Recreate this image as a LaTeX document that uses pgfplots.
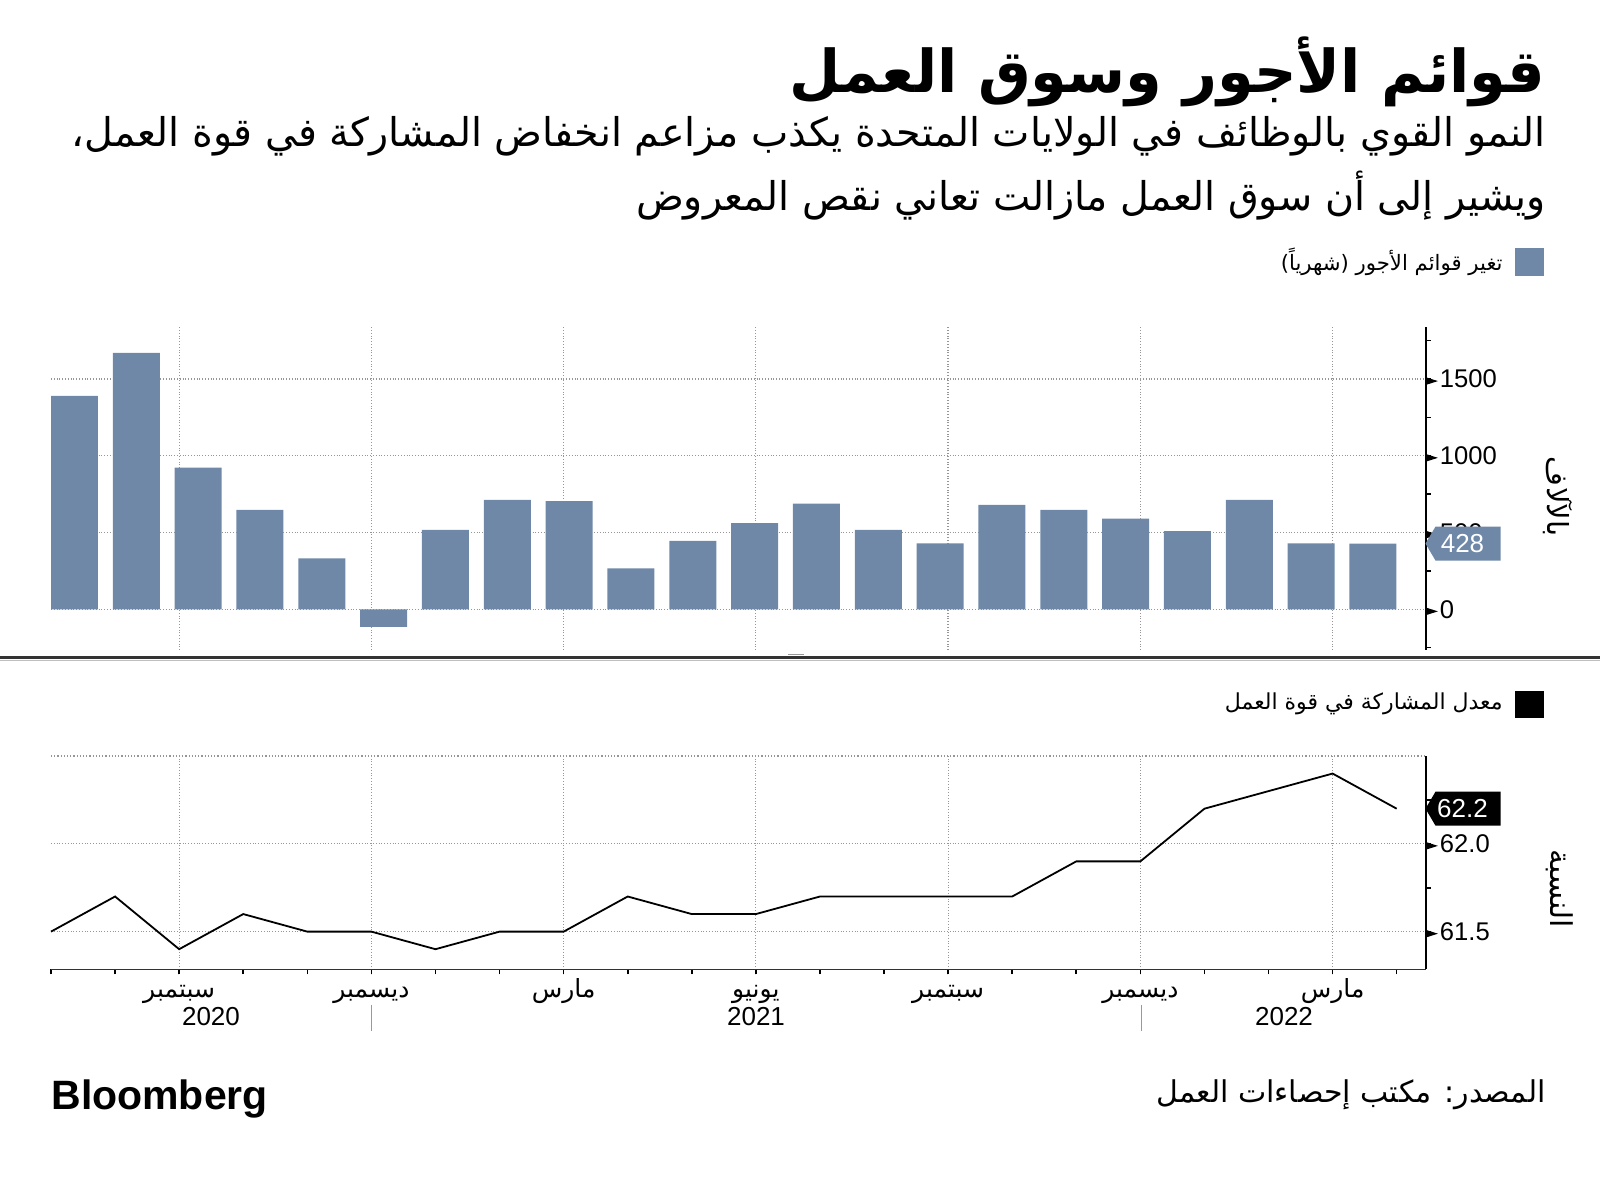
\documentclass[border=0pt]{standalone}
\usepackage{pgfplots}
\pgfplotsset{compat=1.18}
\usepackage{fontspec}
\setmainfont{Liberation Sans}
\newfontfamily\ar[Script=Arabic]{DejaVu Sans}
\TeXXeTstate=1
\definecolor{barc}{RGB}{111,136,167}
\definecolor{gridc}{RGB}{150,150,150}
\newcommand\tri{\tikz[baseline=-0.5ex]\fill (0pt,-1.9pt)--(6pt,0pt)--(0pt,1.9pt)--cycle;\hspace{1pt}}
\pgfplotstableread{
x y
0 1390
1 1670
2 923
3 647
4 332
5 -115
6 517
7 713
8 704
9 267
10 445
11 561
12 689
13 517
14 430
15 680
16 647
17 591
18 510
19 713
20 430
21 428
}\payrolls
\pgfplotstableread{
x y
0 61.5
1 61.7
2 61.4
3 61.6
4 61.5
5 61.5
6 61.4
7 61.5
8 61.5
9 61.7
10 61.6
11 61.6
12 61.7
13 61.7
14 61.7
15 61.7
16 61.9
17 61.9
18 62.2
19 62.3
20 62.4
21 62.2
}\lfpr
\begin{document}
\begin{tikzpicture}
\useasboundingbox (0pt,0pt) rectangle (800pt,589pt);
% titles
\node[anchor=east, inner sep=0pt] at (773pt,553pt) {\ar\bfseries\fontsize{29.5}{36}\selectfont\beginR قوائم الأجور وسوق العمل\endR};
\node[anchor=east, inner sep=0pt] at (773pt,521pt) {\ar\fontsize{19.8}{23}\selectfont\beginR النمو القوي بالوظائف في الولايات المتحدة يكذب مزاعم انخفاض المشاركة في قوة العمل،\endR};
\node[anchor=east, inner sep=0pt] at (773pt,491pt) {\ar\fontsize{19.8}{23}\selectfont\beginR ويشير إلى أن سوق العمل مازالت تعاني نقص المعروض\endR};
% legend 1
\fill[barc] (757.5pt,451pt) rectangle (772pt,465pt);
\node[anchor=east, inner sep=0pt] at (751.5pt,458pt) {\ar\fontsize{10.6}{13}\selectfont\beginR تغير قوائم الأجور (شهرياً)\endR};
% legend 2
\fill[black] (757.5pt,230pt) rectangle (772pt,243.5pt);
\node[anchor=east, inner sep=0pt] at (751.5pt,237pt) {\ar\fontsize{11}{13}\selectfont\beginR معدل المشاركة في قوة العمل\endR};
% divider
\draw[line width=1.5pt, black!80] (0pt,260pt) -- (800pt,260pt);
\draw[line width=0.6pt, black!25] (0pt,258.8pt) -- (800pt,258.8pt);
\draw[line width=0.4pt, black!40] (394pt,261.8pt) -- (402pt,261.8pt);
% rotated labels
\node[rotate=-90, inner sep=0pt] at (779pt,340.5pt) {\ar\fontsize{14.5}{17}\selectfont\beginR بالآلاف\endR};
\node[rotate=-90, inner sep=0pt] at (780pt,144.5pt) {\ar\fontsize{15}{18}\selectfont\beginR النسبة\endR};

\begin{axis}[
  at={(25.5pt,264pt)}, anchor=south west, scale only axis,
  width=687.25pt, height=161.5pt,
  xmin=-0.38, xmax=21.85, ymin=-265, ymax=1839,
  axis y line*=right, axis x line*=bottom,
  x axis line style={draw=none},
  y axis line style={black, line width=1pt},
  xtick={1.692,4.801,7.910,11.019,14.127,17.236,20.345}, xticklabels={},
  xmajorticks=false,
  ytick={0,500,1000,1500},
  yticklabels={\tri 0,\tri 500,\tri 1000,\tri 1500},
  minor ytick={-250,250,750,1250,1750},
  tick align=outside, major tick length=2.5pt, minor tick length=2.5pt,
  tick style={black, line width=0.8pt},
  xmajorgrids, ymajorgrids,
  grid style={densely dotted, gridc, line width=0.6pt},
  yticklabel style={font=\fontsize{12.8}{14}\selectfont, anchor=west, inner sep=0pt, xshift=-2.5pt},
  clip=false,
]
\addplot[ybar, bar width=0.76, fill=barc, draw=none, bar shift=0pt] table[x=x,y=y] {\payrolls};
\fill[barc] (axis cs:21.85,428) -- ++(5pt,8.5pt) -- ++(32.5pt,0pt) -- ++(0pt,-17pt) -- ++(-32.5pt,0pt) -- cycle;
\node[white, font=\fontsize{13}{14}\selectfont, inner sep=0pt] at ([xshift=18.5pt]axis cs:21.85,428) {428};
\end{axis}

\begin{axis}[
  at={(25.5pt,104.3pt)}, anchor=south west, scale only axis,
  width=687.25pt, height=106.7pt,
  xmin=0, xmax=21.45, ymin=61.285, ymax=62.5,
  axis y line*=right, axis x line*=bottom,
  x axis line style={black!80, line width=0.6pt},
  y axis line style={black, line width=1pt},
  xtick={2,5,8,11,14,17,20},
  xticklabels={{\beginR سبتمبر\endR},{\beginR ديسمبر\endR},{\beginR مارس\endR},{\beginR يونيو\endR},{\beginR سبتمبر\endR},{\beginR ديسمبر\endR},{\beginR مارس\endR}},
  minor xtick={0,1,...,21},
  ytick={61.5,62},
  yticklabels={\tri 61.5,\tri 62.0},
  minor ytick={61.75,62.25},
  tick align=outside, major tick length=2.5pt, minor tick length=2.5pt,
  tick style={black, line width=0.8pt},
  xmajorgrids, ymajorgrids,
  grid style={densely dotted, gridc, line width=0.6pt},
  yticklabel style={font=\fontsize{12.8}{14}\selectfont, anchor=west, inner sep=0pt, xshift=-2.5pt},
  xticklabel style={font=\ar\fontsize{12.5}{14}\selectfont, inner sep=0pt, anchor=base, yshift=-11.5pt},
  clip=false,
]
\draw[densely dotted, gridc, line width=0.6pt] (rel axis cs:0,1) -- (rel axis cs:1,1);
\addplot[black, line width=0.9pt, mark=none] table[x=x,y=y] {\lfpr};
\fill[black] (axis cs:21.45,62.2) -- ++(5pt,8.5pt) -- ++(32.5pt,0pt) -- ++(0pt,-17pt) -- ++(-32.5pt,0pt) -- cycle;
\node[white, font=\fontsize{13}{14}\selectfont, inner sep=0pt] at ([xshift=18.5pt]axis cs:21.45,62.2) {62.2};
\end{axis}
% years
\node[font=\fontsize{13}{15}\selectfont] at (105.5pt,80.5pt) {2020};
\node[font=\fontsize{13}{15}\selectfont] at (378pt,80.5pt) {2021};
\node[font=\fontsize{13}{15}\selectfont] at (642pt,80.5pt) {2022};
\draw[black!40, line width=0.5pt] (185.75pt,86.5pt) -- (185.75pt,73.5pt);
\draw[black!40, line width=0.5pt] (570.5pt,86.5pt) -- (570.5pt,73.5pt);
% footer
\node[anchor=west, inner sep=0pt, font=\bfseries\fontsize{20.5}{24}\selectfont] at (25.5pt,39.5pt) {Bloomberg};
\node[anchor=east, inner sep=0pt] at (773pt,41.5pt) {\ar\fontsize{15}{18}\selectfont\beginR المصدر: مكتب إحصاءات العمل\endR};
\end{tikzpicture}
\end{document}
